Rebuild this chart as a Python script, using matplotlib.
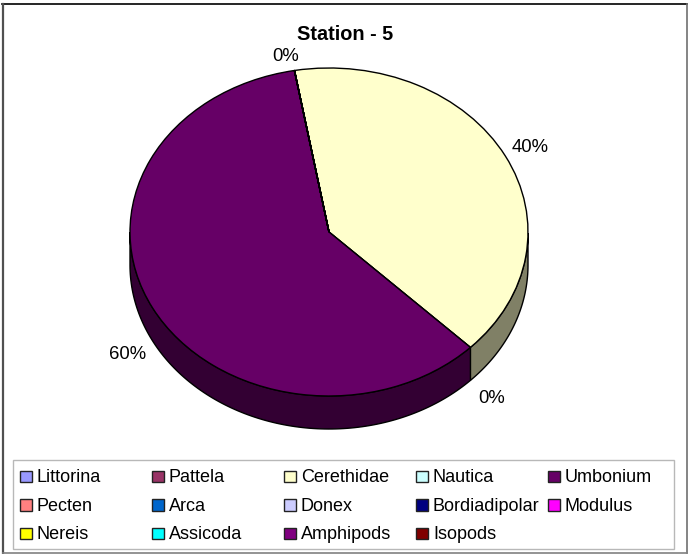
#!/usr/bin/env python

import matplotlib.pyplot as plt
import numpy as np
from matplotlib.colors import to_rgb
from matplotlib.patches import Rectangle

TITLE = "Station - 5"
SPECIES = ["Littorina", "Pattela", "Cerethidae", "Nautica", "Umbonium",
           "Pecten", "Arca", "Donex", "Bordiadipolar", "Modulus",
           "Nereis", "Assicoda", "Amphipods", "Isopods"]
VALUES = [0, 0, 40.2, 0, 59.8, 0, 0, 0, 0, 0, 0, 0, 0, 0]
COLORS = ["#9999ff", "#993366", "#ffffcc", "#ccffff", "#660066",
          "#ff8080", "#0066cc", "#ccccff", "#000080", "#ff00ff",
          "#ffff00", "#00ffff", "#800080", "#800000"]
PCT_LABELS = [("0%", 286, 61), ("40%", 530, 152), ("0%", 492, 403), ("60%", 128, 359)]

W, H = 692, 554
CX, CY, RX, RY = 329, 232, 199, 164
DEPTH = 33 / RY
START = 100

plt.rcParams["font.family"] = ["Liberation Sans", "DejaVu Sans"]

fig = plt.figure(figsize=(W / 100, H / 100), dpi=100)
ax = fig.add_axes([0, 0, 1, 1])

wedges, _ = ax.pie(VALUES, colors=COLORS, startangle=START, counterclock=False,
                   wedgeprops={"edgecolor": "black", "linewidth": 1.0, "zorder": 3})
ax.set_aspect("auto")
ax.set_xlim(-CX / RX, (W - CX) / RX)
ax.set_ylim((CY - H) / RY, CY / RY)
ax.axis("off")

# the rim: front half of every slice, shaded at half brightness
angle = START
for value, color in zip(VALUES, COLORS):
    end = angle - value * 3.6
    lo, hi = end % 360, (end % 360) + value * 3.6
    t = np.radians(np.linspace(lo, hi, 200))
    t = t[np.sin(t) <= 0.0]
    angle = end
    if value == 0 or len(t) == 0:
        continue
    xs = np.concatenate([np.cos(t), np.cos(t[::-1])])
    ys = np.concatenate([np.sin(t), np.sin(t[::-1]) - DEPTH])
    shade = tuple(c * 0.5 for c in to_rgb(color))
    ax.fill(xs, ys, facecolor=shade, edgecolor="black", linewidth=1.0, zorder=2)

overlay = fig.add_axes([0, 0, 1, 1], facecolor="none")
overlay.set_xlim(0, W)
overlay.set_ylim(H, 0)
overlay.axis("off")

# outer frame, each side has its own grey in the original
overlay.plot([2, 687], [4, 4], color="black", linewidth=1.2)
overlay.plot([3, 3], [4, 553], color="#505050", linewidth=1.6)
overlay.plot([687, 687], [4, 553], color="#707070", linewidth=1.2)
overlay.plot([3, 687], [553, 553], color="#808080", linewidth=1.2)

overlay.text(345, 40, TITLE, ha="center", va="baseline", fontsize=14.3, fontweight="bold")

for text, x, y in PCT_LABELS:
    overlay.text(x, y, text, ha="center", va="baseline", fontsize=13.3)

overlay.add_patch(Rectangle((13, 460), 661, 89, fill=False, edgecolor="#b8b8b8", linewidth=1.0))
for i, (name, color) in enumerate(zip(SPECIES, COLORS)):
    col, row = i % 5, i // 5
    x = 20 + col * 132
    y = 476 + row * 28.7
    overlay.add_patch(Rectangle((x, y - 5.5), 11.5, 11.5, facecolor=color,
                                edgecolor="#222222", linewidth=1.0))
    overlay.text(x + 17, y + 6, name, ha="left", va="baseline", fontsize=13)

fig.savefig("out.png", dpi=100)
